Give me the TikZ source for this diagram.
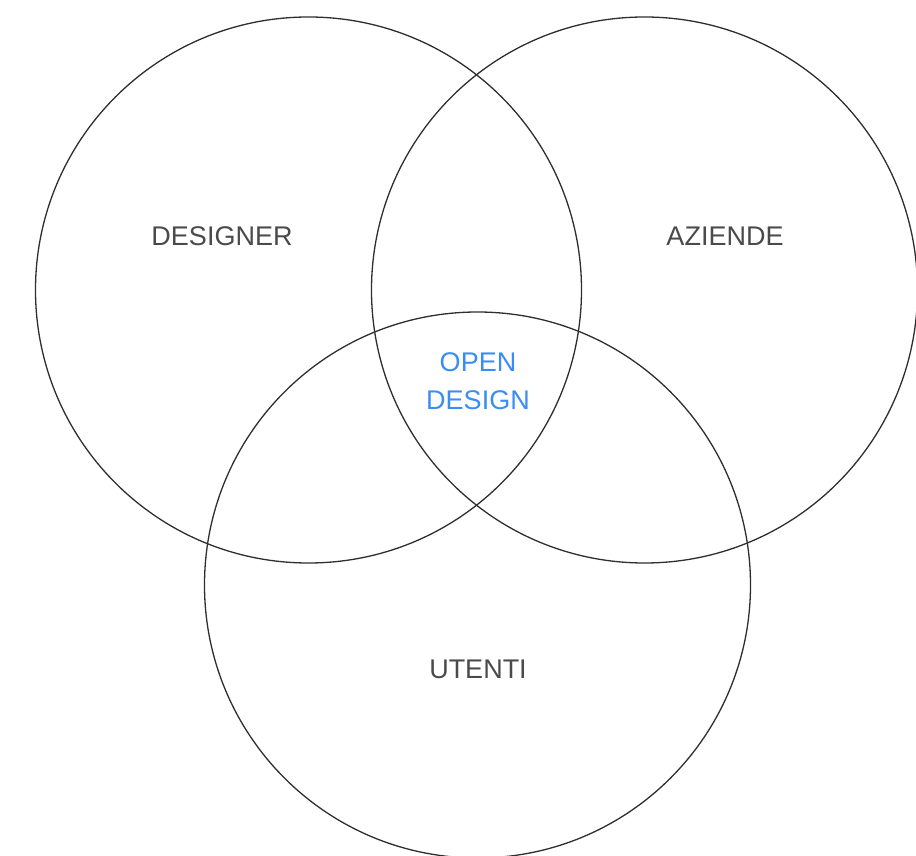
\documentclass[tikz,border=0pt]{standalone}
\usepackage{fontspec}
\setmainfont{Liberation Sans}
\definecolor{ringc}{HTML}{2E2E2E}
\definecolor{labc}{HTML}{4A4A4A}
\definecolor{openc}{HTML}{3A8DF5}
\begin{document}
\begin{tikzpicture}[x=1pt,y=1pt,
  ring/.style={draw=ringc,line width=1.3pt},
  lab/.style={text=labc,font=\fontsize{27}{32}\selectfont,inner sep=0pt},
  openlab/.style={text=openc,font=\fontsize{27}{38}\selectfont,inner sep=0pt,align=center}]
\useasboundingbox (0,0) rectangle (916,855);
\path[clip] (0,0) rectangle (916,855);
\coordinate (cl) at (308.5,565);
\coordinate (cr) at (644.5,565);
\coordinate (cb) at (477.5,270);
\draw[ring] (cl) circle[radius=273];
\draw[ring] (cr) circle[radius=273];
\draw[ring] (cb) circle[radius=273];
\node[lab] (designer) at (222,619) {DESIGNER};
\node[lab] (aziende) at (725,619) {AZIENDE};
\node[lab] (utenti) at (478,186) {UTENTI};
\node[openlab] (open) at (478,474) {OPEN\\DESIGN};
\end{tikzpicture}
\end{document}
